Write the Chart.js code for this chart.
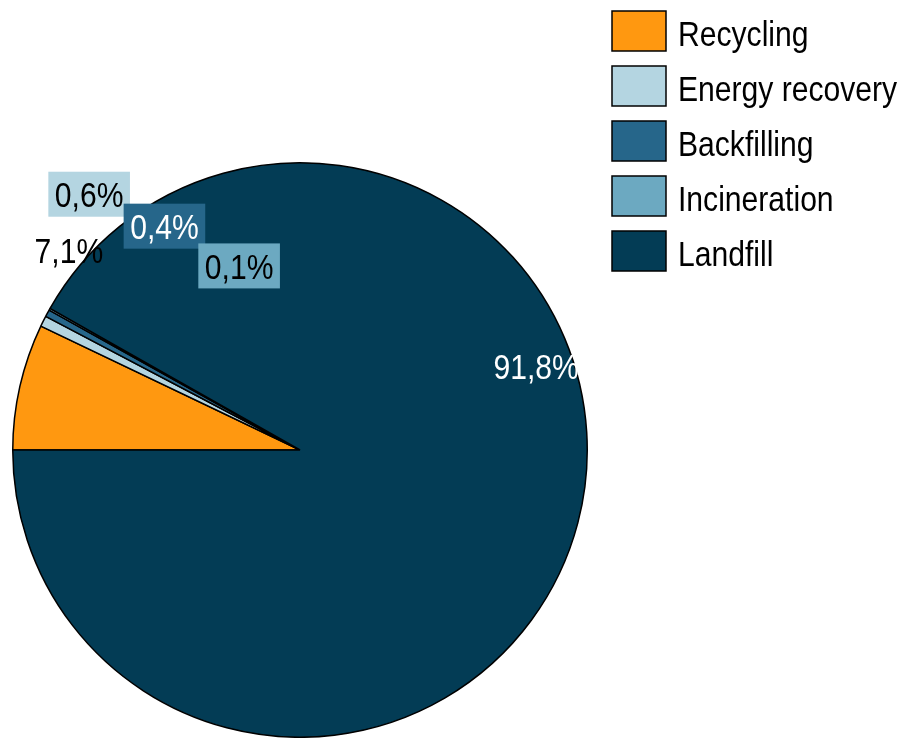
<!DOCTYPE html>
<html>
<head>
<meta charset="utf-8">
<title>Waste treatment shares</title>
<script src="https://cdn.jsdelivr.net/npm/chart.js@4.4.1/dist/chart.umd.min.js"></script>
<style>
  html, body { margin: 0; padding: 0; background: #fff; }
  #wrap { width: 903px; height: 738px; position: relative; }
</style>
</head>
<body>
<div id="wrap"><canvas id="pieChart"></canvas></div>
<script>
// treatment categories and their share of total waste (%)
const categories = ['Recycling', 'Energy recovery', 'Backfilling', 'Incineration', 'Landfill'];
const shares = [7.1, 0.6, 0.4, 0.1, 91.8];

const sliceColors = ['#FF9810', '#B4D5E1', '#26668A', '#6CA9C1', '#033C55'];

// where each percentage label sits: angle (deg, canvas style) and distance as a fraction of the radius
const labelPlacement = [
    { angle: 220.8, dist: 1.063, color: '#000', box: null },
    { angle: 230.5, dist: 1.154, color: '#000', box: '#B4D5E1' },
    { angle: 238.8, dist: 0.911, color: '#fff', box: '#26668A' },
    { angle: 251.7, dist: 0.675, color: '#000', box: '#6CA9C1' },
    { angle: 340.5, dist: 0.872, color: '#fff', box: null }
];

// tall, slightly narrow lettering
const FONT = '35px "Liberation Sans", Arial, sans-serif';
const SQUEEZE = 0.86;

const fmt = v => v.toFixed(1).replace('.', ',') + '%';

function squeezedText(ctx, text, x, y, align) {
    ctx.save();
    ctx.translate(x, y);
    ctx.scale(SQUEEZE, 1);
    ctx.textAlign = align;
    ctx.fillText(text, 0, 0);
    ctx.restore();
}

// percentage labels around / inside the pie
const sliceLabels = {
    id: 'sliceLabels',
    afterDatasetsDraw(chart) {
        const ctx = chart.ctx;
        const meta = chart.getDatasetMeta(0);
        ctx.save();
        ctx.font = FONT;
        ctx.textBaseline = 'alphabetic';
        meta.data.forEach((arc, i) => {
            const p = labelPlacement[i];
            const a = p.angle * Math.PI / 180;
            const x = arc.x + Math.cos(a) * arc.outerRadius * p.dist;
            const y = arc.y + Math.sin(a) * arc.outerRadius * p.dist;
            const text = fmt(shares[i]);
            if (p.box) {
                const w = ctx.measureText(text).width * SQUEEZE + 13;
                ctx.fillStyle = p.box;
                ctx.fillRect(x - w / 2, y - 22.5, w, 45);
            }
            ctx.fillStyle = p.color;
            squeezedText(ctx, text, x, y + 13, 'center');
        });
        ctx.restore();
    }
};

// legend column in the top right corner
const sideLegend = {
    id: 'sideLegend',
    afterDraw(chart) {
        const ctx = chart.ctx;
        const left = 612, top = 11, boxW = 54, boxH = 40, step = 55;
        ctx.save();
        ctx.font = FONT;
        ctx.textBaseline = 'alphabetic';
        categories.forEach((name, i) => {
            const y = top + i * step;
            ctx.fillStyle = sliceColors[i];
            ctx.fillRect(left, y, boxW, boxH);
            ctx.lineWidth = 1.5;
            ctx.strokeStyle = '#000';
            ctx.strokeRect(left, y, boxW, boxH);
            ctx.fillStyle = '#000';
            squeezedText(ctx, name, left + boxW + 12, y + 35, 'left');
        });
        ctx.restore();
    }
};

new Chart(document.getElementById('pieChart'), {
    type: 'pie',
    data: {
        labels: categories,
        datasets: [{
            data: shares,
            backgroundColor: sliceColors,
            borderColor: '#000',
            borderWidth: 1.5
        }]
    },
    options: {
        responsive: true,
        maintainAspectRatio: false,
        animation: false,
        rotation: -90,
        layout: { padding: { left: 12, top: 162, right: 315, bottom: 0 } },
        plugins: {
            legend: { display: false },
            tooltip: { enabled: false }
        }
    },
    plugins: [sliceLabels, sideLegend]
});
</script>
</body>
</html>
